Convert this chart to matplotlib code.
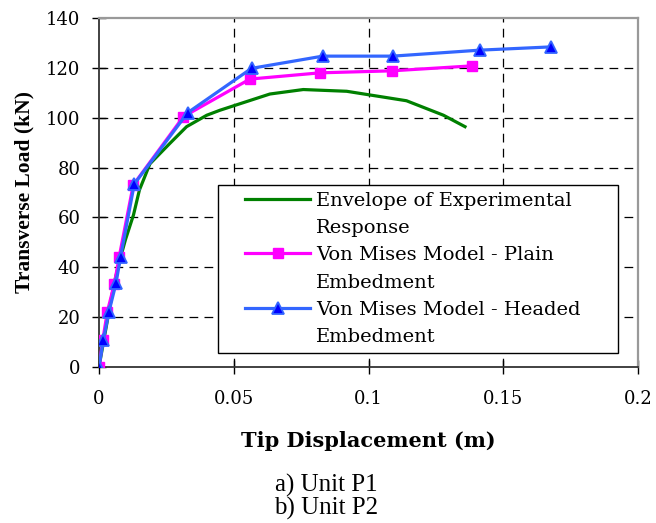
import matplotlib
matplotlib.use("Agg")
import matplotlib.pyplot as plt
from matplotlib.lines import Line2D
from matplotlib.legend_handler import HandlerLine2D

# --- data ---
env_x = [0, 0.002, 0.0055, 0.008, 0.0098, 0.0128, 0.015, 0.0189, 0.0263, 0.0325,
         0.040, 0.0449, 0.0634, 0.0758, 0.0919, 0.1141, 0.1278, 0.1358]
env_y = [0, 12, 33, 44, 51, 61, 71, 81.5, 89.7, 96.4,
         101, 103, 109.5, 111.3, 110.6, 106.8, 101.0, 96.4]

plain_x = [0, 0.0014, 0.0031, 0.0057, 0.0075, 0.0127, 0.0313, 0.056, 0.082, 0.1086, 0.1385]
plain_y = [0, 10.8, 22.2, 33.3, 44.2, 73.0, 100.4, 115.5, 118.0, 118.8, 120.8]

head_x = [0, 0.0016, 0.0037, 0.0063, 0.008, 0.0131, 0.0329, 0.0566, 0.083, 0.109, 0.1413, 0.1676]
head_y = [0, 10.8, 22.2, 33.5, 44.2, 73.4, 102.0, 119.8, 124.7, 124.7, 127.1, 128.4]

x_ticks = [0, 0.05, 0.1, 0.15, 0.2]
x_ticklabels = ['0', '0.05', '0.1', '0.15', '0.2']
y_ticks = [0, 20, 40, 60, 80, 100, 120, 140]

# each legend label is two lines; second line goes on its own blank row
labels = [('Envelope of Experimental', 'Response'),
          ('Von Mises Model - Plain', 'Embedment'),
          ('Von Mises Model - Headed', 'Embedment')]

fig = plt.figure(figsize=(6.56, 5.23), dpi=100)
ax = fig.add_axes([0.1509, 0.2983, 0.8217, 0.6673])

l_env, = ax.plot(env_x, env_y, color='#008000', lw=2.3, zorder=3)
l_plain, = ax.plot(plain_x, plain_y, color='#FF00FF', lw=2.3, marker='s', ms=7,
                   mfc='#FF00FF', mec='#FF00FF', zorder=4)
l_head, = ax.plot(head_x, head_y, color='#3366FF', lw=2.3, marker='^', ms=8.5,
                  mfc='#0000FF', mec='#3366FF', mew=1.3, zorder=5)

ax.set_xlim(0, 0.2)
ax.set_ylim(0, 140)
ax.set_xticks(x_ticks)
ax.set_xticklabels(x_ticklabels)
ax.set_yticks(y_ticks)

ax.grid(True, color='black', linestyle=(0, (7, 5)), linewidth=0.9)
ax.set_axisbelow(True)
# no dashed lines on top of the frame
xg = ax.get_xgridlines()
yg = ax.get_ygridlines()
for g in (xg[0], xg[-1], yg[0], yg[-1]):
    g.set_visible(False)

for side in ['top', 'right']:
    ax.spines[side].set_color('#999999')
    ax.spines[side].set_linewidth(1.6)
for side in ['left', 'bottom']:
    ax.spines[side].set_color('#333333')
    ax.spines[side].set_linewidth(1.3)

ax.tick_params(axis='both', direction='inout', length=10.5, width=1.0,
               labelsize=13)
ax.tick_params(axis='x', pad=11)
ax.tick_params(axis='y', pad=8)
for t in ax.get_xticklabels() + ax.get_yticklabels():
    t.set_family('DejaVu Serif')

ax.set_xlabel('Tip Displacement (m)', family='DejaVu Serif', fontweight='bold',
              fontsize=15, labelpad=17)
ax.set_ylabel('Transverse Load (kN)', family='Liberation Serif', fontweight='bold',
              fontsize=15.5, labelpad=8)

handles, texts = [], []
hmap = {}
for line, (first, second) in zip((l_env, l_plain, l_head), labels):
    blank = Line2D([], [], linestyle='none')
    handles += [line, blank]
    texts += [first, second]
    hmap[line] = HandlerLine2D(xpad=1.05)

leg = ax.legend(handles, texts, loc='lower left',
                bbox_to_anchor=(0.221, 0.04, 0.742, 0.473),
                mode='expand', borderaxespad=0, fancybox=False, edgecolor='black',
                framealpha=1, prop={'family': 'DejaVu Serif', 'size': 14},
                handlelength=4.4, handletextpad=0.3, labelspacing=0.48,
                borderpad=0.35, handler_map=hmap)
leg.get_frame().set_linewidth(1.0)

fig.text(0.497, 0.071, 'a) Unit P1', ha='center', va='center',
         family='Liberation Serif', fontsize=18)
fig.text(0.497, 0.028, 'b) Unit P2', ha='center', va='center',
         family='Liberation Serif', fontsize=18)

fig.savefig('out.png', dpi=100)
